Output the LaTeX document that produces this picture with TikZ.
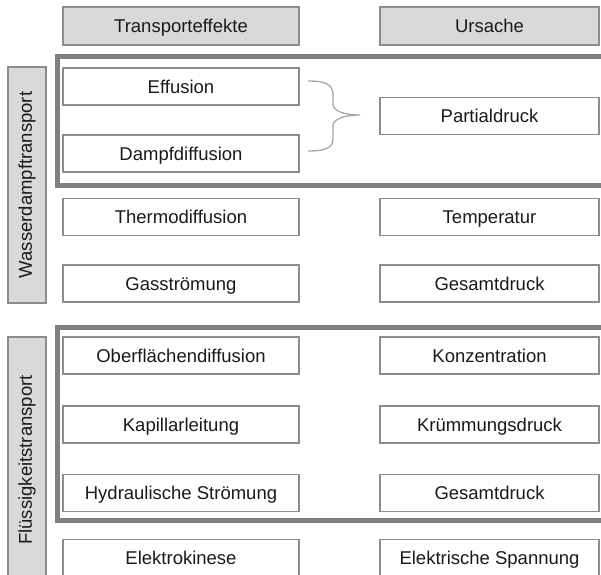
\documentclass[tikz,border=0pt]{standalone}
\usepackage{fontspec}
\setmainfont{Liberation Sans}
\definecolor{frameline}{HTML}{808080}
\definecolor{boxline}{HTML}{8C8C8C}
\definecolor{headfill}{HTML}{D9D9D9}
\definecolor{txt}{HTML}{1A1A1A}
\definecolor{bracecol}{HTML}{A6A6A6}
\tikzset{
  cell/.style={draw=boxline, line width=1.6pt, fill=white, rectangle,
    minimum height=37pt, inner sep=0pt, text=txt,
    text height=14.5pt, text depth=1.5pt,
    font=\fontsize{18.5}{21}\selectfont},
  leftcell/.style={cell, minimum width=236pt},
  rightcell/.style={cell, minimum width=219pt},
  headcell/.style={fill=headfill, minimum height=38pt},
  sidebox/.style={draw=boxline, line width=1.6pt, fill=headfill},
  sidetext/.style={rotate=90, text=txt, font=\fontsize{18.5}{21}\selectfont},
  groupframe/.style={draw=frameline, line width=5pt},
  bracepath/.style={draw=bracecol, line width=1.3pt}
}
\begin{document}
\begin{tikzpicture}[x=1pt,y=-1pt]
\useasboundingbox (0,0) rectangle (601,574);
\clip (0,0) rectangle (601,574);

% group frames
\draw[groupframe] (57,56) rectangle (640,185);
\draw[groupframe] (57,327) rectangle (640,520);

% column headers
\node[leftcell, headcell] (hleft) at (181,26) {Transporteffekte};
\node[rightcell, headcell] (hright) at (489.5,26) {Ursache};

% side labels
\node[sidebox, minimum width=38pt, minimum height=236pt] (sideA) at (27,185) {};
\node[sidetext] (sideAt) at (sideA.center) {Wasserdampftransport};
\node[sidebox, minimum width=38pt, minimum height=250pt] (sideB) at (27,462) {};
\node[sidetext] (sideBt) at (27,460) {Flüssigkeitstransport};

% transport effects
\node[leftcell] (eff) at (181,86.5) {Effusion};
\node[leftcell] (dampf) at (181,153.5) {Dampfdiffusion};
\node[leftcell] (thermo) at (181,217) {Thermodiffusion};
\node[leftcell] (gas) at (181,283.5) {Gasströmung};
\node[leftcell] (ober) at (181,355.5) {Oberflächendiffusion};
\node[leftcell] (kap) at (181,424.5) {Kapillarleitung};
\node[leftcell] (hyd) at (181,493) {Hydraulische Strömung};
\node[leftcell] (elk) at (181,558) {Elektrokinese};

% causes
\node[rightcell] (partial) at (489.5,116) {Partialdruck};
\node[rightcell] (temp) at (489.5,217) {Temperatur};
\node[rightcell] (gesA) at (489.5,283.5) {Gesamtdruck};
\node[rightcell] (konz) at (489.5,355.5) {Konzentration};
\node[rightcell] (kruem) at (489.5,424.5) {Krümmungsdruck};
\node[rightcell] (gesB) at (489.5,493) {Gesamtdruck};
\node[rightcell] (espan) at (489.5,558) {Elektrische Spannung};

% brace joining Effusion and Dampfdiffusion
\coordinate (btop) at (308,81);
\coordinate (bmid) at (360,115);
\coordinate (bbot) at (308,151);
\draw[bracepath] (btop) .. controls (325,81) and (333,84) .. (333,95)
  -- (333,104) .. controls (333,111) and (344,115) .. (bmid)
  .. controls (344,115) and (333,119) .. (333,126)
  -- (333,139) .. controls (333,148) and (325,151) .. (bbot);
\end{tikzpicture}
\end{document}
